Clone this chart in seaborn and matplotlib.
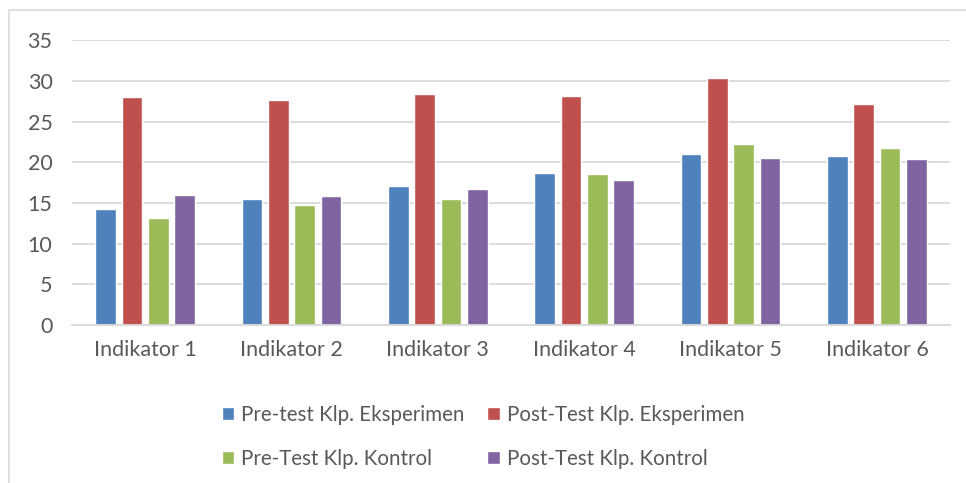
import pandas as pd
import matplotlib
matplotlib.use("Agg")
import matplotlib.pyplot as plt
import seaborn as sns
from matplotlib.patches import Rectangle

# Data
indikator = ["Indikator 1", "Indikator 2", "Indikator 3", "Indikator 4", "Indikator 5", "Indikator 6"]
pre_eksperimen = [14.2, 15.5, 17.1, 18.7, 21.0, 20.8]
post_eksperimen = [28.0, 27.7, 28.4, 28.1, 30.4, 27.1]
pre_kontrol = [13.2, 14.7, 15.5, 18.5, 22.2, 21.7]
post_kontrol = [16.0, 15.9, 16.7, 17.8, 20.5, 20.4]

series = ["Pre-test Klp. Eksperimen", "Post-Test Klp. Eksperimen",
          "Pre-Test Klp. Kontrol", "Post-Test Klp. Kontrol"]
colors = ["#4F81BD", "#C0504D", "#9BBB59", "#8064A2"]

df = pd.DataFrame({
    "indikator": indikator * 4,
    "nilai": pre_eksperimen + post_eksperimen + pre_kontrol + post_kontrol,
    "kelompok": [s for s in series for _ in indikator],
})

sns.set_style("white")
plt.rcParams["font.family"] = ["Lato", "DejaVu Sans"]

fig = plt.figure(figsize=(9.66, 4.83), dpi=100)
ax = fig.add_axes([0.0745, 0.327, 0.909, 0.59])

sns.barplot(data=df, x="indikator", y="nilai", hue="kelompok", hue_order=series,
            palette=colors, width=0.72, gap=0.22, saturation=1, ax=ax, legend=True)

ax.set_ylim(0, 35)
ax.set_yticks(range(0, 36, 5))
ax.set_xlim(-0.5, 5.5)
ax.yaxis.grid(True, color="#D9D9D9", linewidth=1.3)
ax.set_axisbelow(True)
for s in ["top", "right", "left"]:
    ax.spines[s].set_visible(False)
ax.spines["bottom"].set_color("#D9D9D9")
ax.spines["bottom"].set_linewidth(1.3)
ax.set_xlabel("")
ax.set_ylabel("")
ax.tick_params(axis="both", length=0, labelsize=15.5, colors="#595959")
ax.tick_params(axis="x", pad=11)
ax.tick_params(axis="y", pad=14)

# legend rows: experiment pair on top, control pair below
handles, labels = ax.get_legend_handles_labels()
order = [0, 2, 1, 3]
ax.legend_.remove()
fig.legend([handles[i] for i in order], [labels[i] for i in order],
           loc="upper center", bbox_to_anchor=(0.5, 0.2), ncol=2,
           frameon=False, fontsize=14.8, labelcolor="#595959", handlelength=0.6,
           handleheight=0.6, handletextpad=0.35, columnspacing=1.1, labelspacing=1.15)

# chart border
fig.patches.append(Rectangle((0.009, -0.01), 1.2, 0.99, transform=fig.transFigure,
                             fill=False, edgecolor="#D9D9D9", linewidth=1.2))

fig.savefig("out.png", dpi=100)
